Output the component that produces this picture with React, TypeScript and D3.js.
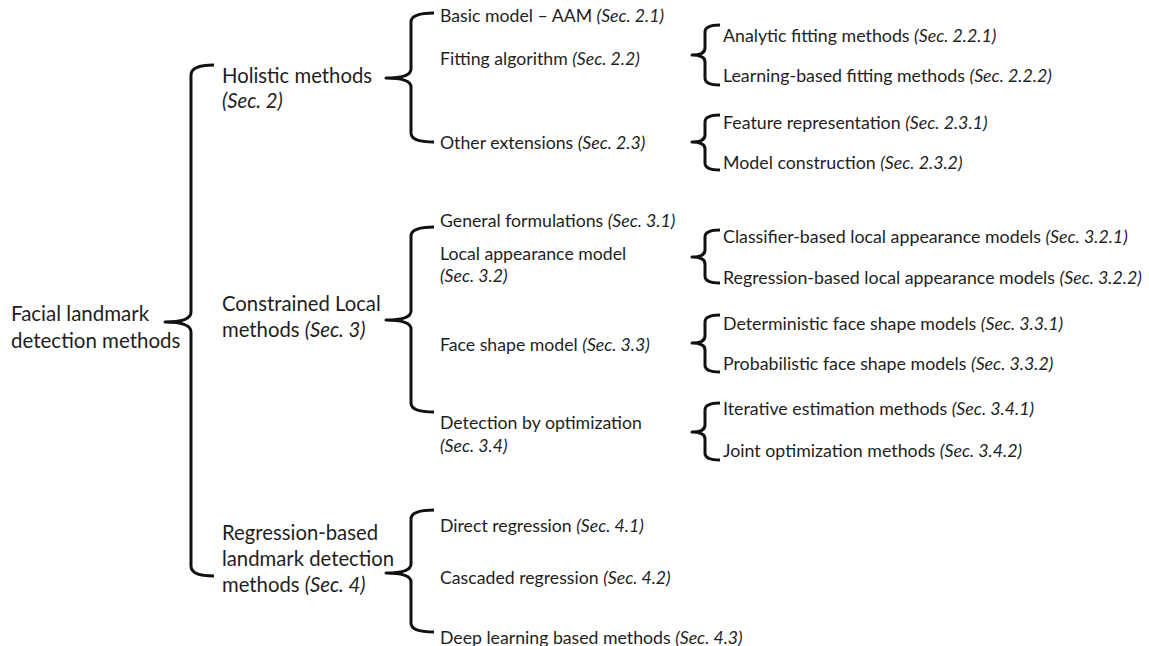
import React from 'react';
import * as d3 from 'd3';

// text of the tree: each line is [plain, italic]
const rootLabel = [["Facial landmark", ""], ["detection methods", ""]];

const level1Labels = [
  [["Holistic methods", ""], ["", "(Sec. 2)"]],
  [["Constrained Local", ""], ["methods ", "(Sec. 3)"]],
  [["Regression-based", ""], ["landmark detection", ""], ["methods ", "(Sec. 4)"]],
];

const holisticChildren = [
  [["Basic model – AAM ", "(Sec. 2.1)"]],
  [["Fitting algorithm ", "(Sec. 2.2)"]],
  [["Other extensions ", "(Sec. 2.3)"]],
];
const clmChildren = [
  [["General formulations ", "(Sec. 3.1)"]],
  [["Local appearance model", ""], ["", "(Sec. 3.2)"]],
  [["Face shape model ", "(Sec. 3.3)"]],
  [["Detection by optimization", ""], ["", "(Sec. 3.4)"]],
];
const regressionChildren = [
  [["Direct regression ", "(Sec. 4.1)"]],
  [["Cascaded regression ", "(Sec. 4.2)"]],
  [["Deep learning based methods ", "(Sec. 4.3)"]],
];

const fittingChildren = [["Analytic fitting methods ", "(Sec. 2.2.1)"], ["Learning-based fitting methods ", "(Sec. 2.2.2)"]];
const extensionChildren = [["Feature representation ", "(Sec. 2.3.1)"], ["Model construction ", "(Sec. 2.3.2)"]];
const appearanceChildren = [["Classifier-based local appearance models ", "(Sec. 3.2.1)"], ["Regression-based local appearance models ", "(Sec. 3.2.2)"]];
const shapeChildren = [["Deterministic face shape models ", "(Sec. 3.3.1)"], ["Probabilistic face shape models ", "(Sec. 3.3.2)"]];
const optimizationChildren = [["Iterative estimation methods ", "(Sec. 3.4.1)"], ["Joint optimization methods ", "(Sec. 3.4.2)"]];

// layout (pixel rows of the figure)
const rootLayout = { x: 11, lines: [313, 340], brace: { xTip: 165, xV: 191, xEnd: 214, top: 65, tip: 322, bottom: 576 } };
const level1Layout = [
  { lines: [75, 100], brace: { top: 13, tip: 78, bottom: 142 } },
  { lines: [303, 329], brace: { top: 227, tip: 320, bottom: 412 } },
  { lines: [532, 558, 584], brace: { top: 510, tip: 573, bottom: 632 } },
];
const level2Rows = [
  [[15], [58], [142]],
  [[220], [253, 275], [344], [422, 445]],
  [[525], [577], [637]],
];
const level3Layout = [
  { top: 25, tip: 55, bottom: 85, rows: [35, 75] },
  { top: 115, tip: 142, bottom: 170, rows: [122, 162] },
  { top: 230, tip: 257, bottom: 283, rows: [236, 277] },
  { top: 315, tip: 343, bottom: 372, rows: [323, 363] },
  { top: 403, tip: 432, bottom: 460, rows: [408, 450] },
];

const FONT = 'Lato, "Open Sans", sans-serif';
const TEXT = '#1e1e1e';

function bracePath(xTip: number, xV: number, xEnd: number, top: number, tip: number, bottom: number, r: number) {
  const p = d3.path();
  p.moveTo(xEnd, top);
  p.quadraticCurveTo(xV, top, xV, top + r);
  p.lineTo(xV, tip - r);
  p.quadraticCurveTo(xV, tip, xTip, tip);
  p.quadraticCurveTo(xV, tip, xV, tip + r);
  p.lineTo(xV, bottom - r);
  p.quadraticCurveTo(xV, bottom, xEnd, bottom);
  return p.toString();
}

function Label({ x, ys, lines, size }: { x: number; ys: number[]; lines: string[][]; size: number }) {
  return (
    <g>
      {lines.map((ln, i) => (
        <text key={i} x={x} y={ys[i]} dominantBaseline="central" fontSize={size} fill={TEXT} fontFamily={FONT}>
          {ln[0]}
          {ln[1] && <tspan fontStyle="italic">{ln[1]}</tspan>}
        </text>
      ))}
    </g>
  );
}

export default function App() {
  const width = 1149, height = 646;
  const level2Children = [holisticChildren, clmChildren, regressionChildren];
  const level3Children = [fittingChildren, extensionChildren, appearanceChildren, shapeChildren, optimizationChildren];
  const strokeProps = { fill: 'none', stroke: '#111', strokeWidth: 3, strokeLinejoin: 'round' as const };

  return (
    <svg width={width} height={height} style={{ position: 'absolute', left: 0, top: 0, background: '#fff' }}>
      <rect width={width} height={height} fill="#fff" />
      <Label x={rootLayout.x} ys={rootLayout.lines} lines={rootLabel} size={20.5} />
      <path d={bracePath(rootLayout.brace.xTip, rootLayout.brace.xV, rootLayout.brace.xEnd, rootLayout.brace.top, rootLayout.brace.tip, rootLayout.brace.bottom, 10)} {...strokeProps} />

      {level1Labels.map((lab, i) => {
        const L = level1Layout[i];
        return (
          <g key={i}>
            <Label x={222} ys={L.lines} lines={lab} size={20.3} />
            <path d={bracePath(386, 411, 434, L.brace.top, L.brace.tip, L.brace.bottom, 9)} {...strokeProps} />
            {level2Children[i].map((c, j) => (
              <Label key={j} x={440} ys={level2Rows[i][j]} lines={c} size={17.7} />
            ))}
          </g>
        );
      })}

      {level3Children.map((kids, i) => {
        const L = level3Layout[i];
        return (
          <g key={i}>
            <path d={bracePath(692, 705, 720, L.top, L.tip, L.bottom, 7)} {...strokeProps} />
            {kids.map((k, j) => (
              <Label key={j} x={723} ys={[L.rows[j]]} lines={[k]} size={17.8} />
            ))}
          </g>
        );
      })}
    </svg>
  );
}
